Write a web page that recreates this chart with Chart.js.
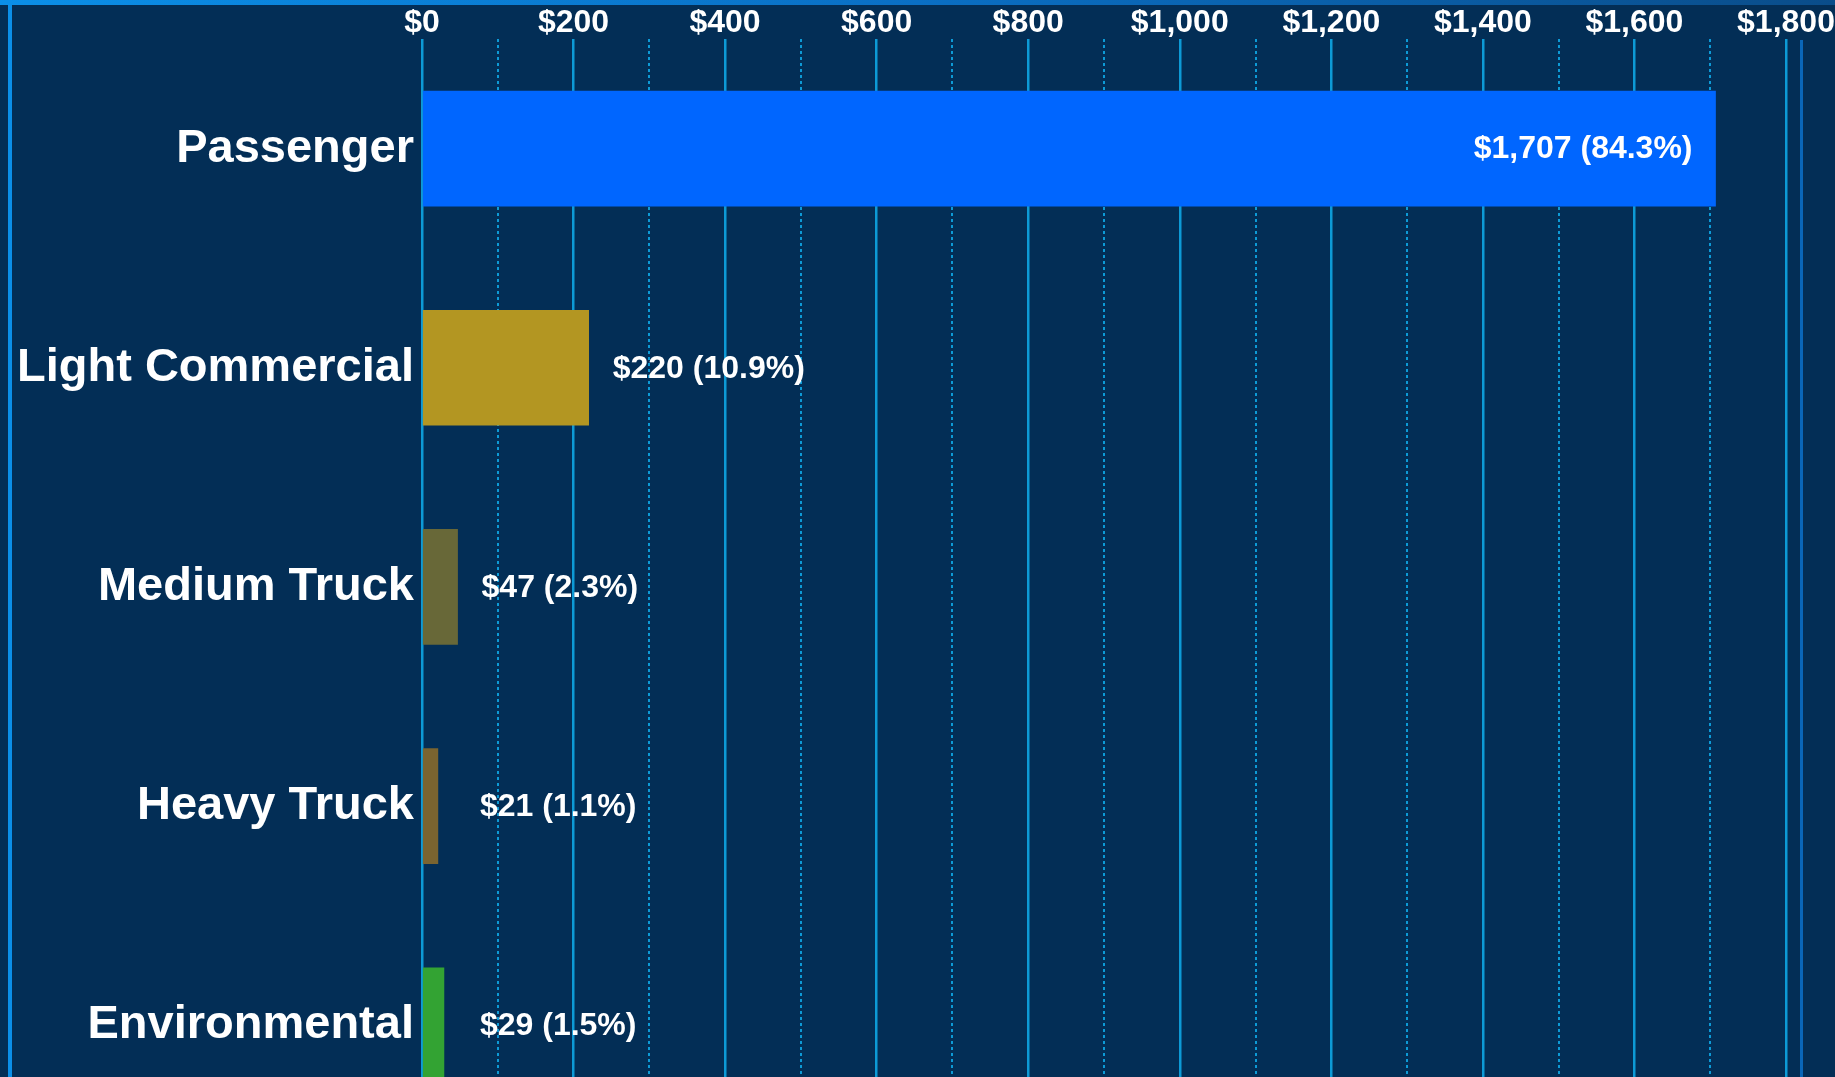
<!DOCTYPE html>
<html>
<head>
<meta charset="utf-8">
<script src="https://cdn.jsdelivr.net/npm/chart.js@4.4.1/dist/chart.umd.min.js"></script>
<style>
  html, body { margin: 0; padding: 0; overflow: hidden; background: #032e56; }
  #wrap { position: relative; width: 1835px; height: 1077px; overflow: hidden; }
  #chart { position: absolute; left: 0; top: 0; }
  /* frame lines of the slide */
  .topLine { position: absolute; left: 0; top: 0; width: 1835px; height: 5px;
    background: linear-gradient(to right, #0b8fe8, #0a6fc4 50%, #0a4d8a); }
  .leftLine { position: absolute; left: 8px; top: 0; width: 4px; height: 1077px; background: #0b8fe8; }
  .rightLine { position: absolute; left: 1800px; top: 40px; width: 3px; height: 1037px; background: #0a66b8; }
</style>
</head>
<body>
<div id="wrap">
  <canvas id="chart" width="1835" height="1171"></canvas>
  <div class="topLine"></div>
  <div class="leftLine"></div>
  <div class="rightLine"></div>
</div>
<script>
// chart data
const categories = ["Passenger", "Light Commercial", "Medium Truck", "Heavy Truck", "Environmental"];
const values = [1707, 220, 47, 21, 29];
const shares = [84.3, 10.9, 2.3, 1.1, 1.5];
const barColors = ["#0066ff", "#b39622", "#686838", "#7a6430", "#33a333"];
const tickLabels = ["$0", "$200", "$400", "$600", "$800", "$1,000", "$1,200", "$1,400", "$1,600", "$1,800"];

const FONT = '"Liberation Sans", Arial, sans-serif';
const gridColor = "#0d9ad6";

// draws "$value (share%)" next to / inside each bar
const barLabels = {
    id: "barLabels",
    afterDatasetsDraw(chart) {
        const ctx = chart.ctx;
        const meta = chart.getDatasetMeta(0);
        const zeroX = chart.scales.x.getPixelForValue(0);
        ctx.save();
        ctx.font = "bold 32px " + FONT;
        ctx.fillStyle = "#ffffff";
        ctx.textBaseline = "middle";
        meta.data.forEach((bar, i) => {
            const text = "$" + values[i].toLocaleString("en-US") + " (" + shares[i].toFixed(1) + "%)";
            const w = ctx.measureText(text).width;
            if (w + 60 < bar.x - bar.base) {
                ctx.textAlign = "right";
                ctx.fillText(text, bar.x - 23, bar.y + 1);
            } else {
                ctx.textAlign = "left";
                ctx.fillText(text, Math.max(bar.x + 24, zeroX + 58), bar.y + 1);
            }
        });
        ctx.restore();
    }
};

const chart = new Chart(document.getElementById("chart"), {
    type: "bar",
    data: {
        labels: categories,
        datasets: [{
            data: values,
            backgroundColor: barColors,
            borderWidth: 0,
            barThickness: 115
        }]
    },
    options: {
        indexAxis: "y",
        responsive: false,
        animation: false,
        layout: { padding: { top: 7, left: 9, right: 49, bottom: 5 } },
        plugins: {
            legend: { display: false },
            tooltip: { enabled: false }
        },
        scales: {
            x: {
                position: "top",
                min: 0,
                max: 1800,
                ticks: {
                    stepSize: 100,
                    autoSkip: false,
                    maxRotation: 0,
                    padding: 0,
                    color: "#ffffff",
                    font: { family: FONT, size: 32, weight: "bold", lineHeight: 1.0 },
                    callback: (v) => (v % 200 === 0 ? tickLabels[v / 200] : "")
                },
                grid: {
                    drawTicks: false,
                    color: gridColor,
                    lineWidth: (c) => (c.tick && c.tick.value % 200 !== 0 ? 2 : 2.5)
                },
                border: {
                    display: false,
                    dash: (c) => (c.tick && c.tick.value % 200 !== 0 ? [3, 3] : [])
                }
            },
            y: {
                ticks: {
                    padding: 8,
                    color: "#ffffff",
                    font: { family: FONT, size: 47, weight: "bold" }
                },
                grid: { display: false, drawTicks: false },
                border: { display: false }
            }
        }
    },
    plugins: [barLabels]
});
</script>
</body>
</html>
